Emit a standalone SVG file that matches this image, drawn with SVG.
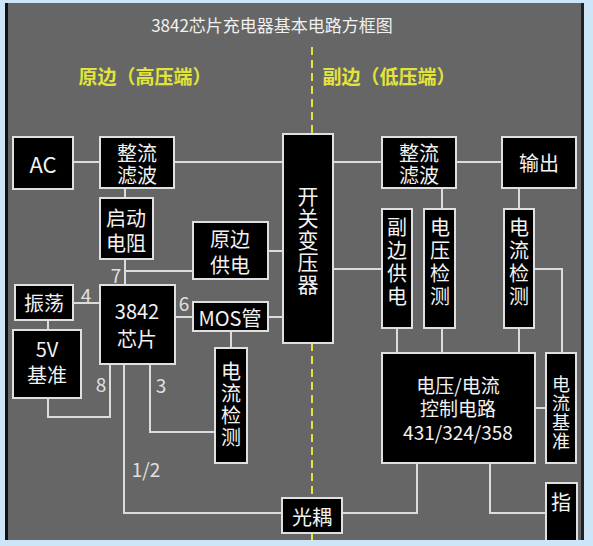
<svg xmlns="http://www.w3.org/2000/svg" width="593" height="546" viewBox="0 0 593 546">
<style>
.box{fill:#000;stroke:#e0e0e0;stroke-width:2}
.ln{fill:none;stroke:#dcdcdc;stroke-width:2}
text{font-family:"Noto Sans CJK SC","Noto Sans",sans-serif;fill:#f2f2f2;text-anchor:middle;dominant-baseline:central}
.t{font-size:20px}
.v{font-size:20px;writing-mode:vertical-rl;letter-spacing:3px}
.n{font-size:19px;fill:#e0e0e0}
.y{font-size:19px;font-weight:bold;fill:#e2e43a}
</style>
<rect x="0" y="0" width="593" height="546" fill="#cde6f7"/>
<rect x="5" y="3" width="579" height="537" fill="#666666"/>
<rect x="5" y="3" width="3" height="537" fill="#111"/>
<rect x="581" y="3" width="3" height="537" fill="#222"/>
<text x="272" y="24" style="font-size:17px;fill:#f0f0f0">3842芯片充电器基本电路方框图</text>
<text class="y" x="145" y="75">原边（高压端）</text>
<text class="y" x="389" y="75">副边（低压端）</text>
<g id="divider" fill="none" stroke="#e2e43a" stroke-width="2" stroke-dasharray="8,5">
<line x1="312" y1="47" x2="312" y2="134"/>
<line x1="312" y1="343" x2="312" y2="498"/>
<line x1="312" y1="533" x2="312" y2="540"/>
</g>
<g id="connectors" class="ln">
<line x1="73" y1="162" x2="100" y2="162"/>
<line x1="174" y1="162" x2="283" y2="162"/>
<line x1="125" y1="188" x2="125" y2="198"/>
<line x1="125" y1="259" x2="125" y2="285"/>
<line x1="125" y1="271" x2="193" y2="271"/>
<line x1="268" y1="251" x2="283" y2="251"/>
<line x1="73" y1="303" x2="100" y2="303"/>
<line x1="175" y1="317" x2="193" y2="317"/>
<line x1="268" y1="317" x2="283" y2="317"/>
<line x1="48" y1="320" x2="48" y2="330"/>
<polyline points="110,364 110,417 48,417 48,398"/>
<polyline points="150,364 150,432 215,432"/>
<line x1="231" y1="331" x2="231" y2="348"/>
<polyline points="124,364 124,513 282,513"/>
<polyline points="342,513 417,513 417,463"/>
<polyline points="490,463 490,513 546,513"/>
<line x1="535" y1="408" x2="546" y2="408"/>
<line x1="333" y1="162" x2="382" y2="162"/>
<line x1="456" y1="162" x2="502" y2="162"/>
<line x1="442" y1="188" x2="442" y2="209"/>
<line x1="519" y1="188" x2="519" y2="209"/>
<line x1="333" y1="269" x2="382" y2="269"/>
<polyline points="534,269 562,269 562,353"/>
<line x1="397" y1="328" x2="397" y2="353"/>
<line x1="442" y1="328" x2="442" y2="353"/>
<line x1="519" y1="328" x2="519" y2="353"/>
</g>
<g id="ac"><rect class="box" x="13" y="137" width="60" height="52"/><text class="t" x="43" y="163" style="font-size:22px">AC</text></g>
<g id="rect1"><rect class="box" x="100" y="137" width="74" height="51"/><text class="t" x="137" y="152">整流<tspan x="137" dy="22">滤波</tspan></text></g>
<g id="startres"><rect class="box" x="100" y="198" width="53" height="61"/><text class="t" x="126" y="217">启动<tspan x="126" dy="25">电阻</tspan></text></g>
<g id="prisupply"><rect class="box" x="193" y="222" width="75" height="57"/><text class="t" x="230" y="238">原边<tspan x="230" dy="26">供电</tspan></text></g>
<g id="osc"><rect class="box" x="15" y="285" width="58" height="35"/><text class="t" x="44" y="302">振荡</text></g>
<g id="chip"><rect class="box" x="100" y="285" width="75" height="79"/><text class="t" x="137" y="310">3842<tspan x="137" dy="28">芯片</tspan></text></g>
<g id="mos"><rect class="box" x="193" y="302" width="75" height="29"/><text class="t" x="230" y="317">MOS管</text></g>
<g id="ref5v"><rect class="box" x="13" y="330" width="68" height="68"/><text class="t" x="47" y="348">5V<tspan x="47" dy="26">基准</tspan></text></g>
<g id="isense1"><rect class="box" x="215" y="348" width="32" height="115"/><text class="v" x="231" y="405" style="letter-spacing:2px">电流检测</text></g>
<g id="opto"><rect class="box" x="282" y="498" width="60" height="35"/><text class="t" x="312" y="516">光耦</text></g>
<g id="transformer"><rect class="box" x="283" y="134" width="50" height="209"/><text class="v" x="308" y="241" style="font-size:21px;letter-spacing:1px">开关变压器</text></g>
<g id="rect2"><rect class="box" x="382" y="137" width="74" height="51"/><text class="t" x="419" y="152">整流<tspan x="419" dy="22">滤波</tspan></text></g>
<g id="output"><rect class="box" x="502" y="137" width="74" height="51"/><text class="t" x="539" y="162">输出</text></g>
<g id="secsupply"><rect class="box" x="382" y="209" width="30" height="119"/><text class="v" x="397" y="263">副边供电</text></g>
<g id="vsense"><rect class="box" x="424" y="209" width="31" height="119"/><text class="v" x="440" y="263">电压检测</text></g>
<g id="isense2"><rect class="box" x="504" y="209" width="30" height="119"/><text class="v" x="519" y="263">电流检测</text></g>
<g id="control"><rect class="box" x="382" y="353" width="153" height="110"/><text class="t" x="458" y="384" style="font-size:19px">电压/电流<tspan x="458" dy="23">控制电路</tspan><tspan x="458" dy="24">431/324/358</tspan></text></g>
<g id="iref"><rect class="box" x="546" y="353" width="30" height="110"/><text class="v" x="561" y="413" style="font-size:18px;letter-spacing:1px">电流基准</text></g>
<g id="indicator"><rect class="box" x="546" y="483" width="31" height="62"/><text class="t" x="561" y="501">指</text></g>
<rect x="0" y="540" width="593" height="6" fill="#cde6f7"/>
<g id="pins">
<text class="n" x="116" y="274">7</text>
<text class="n" x="86" y="294">4</text>
<text class="n" x="184" y="302">6</text>
<text class="n" x="101" y="383">8</text>
<text class="n" x="161" y="384">3</text>
<text class="n" x="146" y="468">1/2</text>
</g>
</svg>
